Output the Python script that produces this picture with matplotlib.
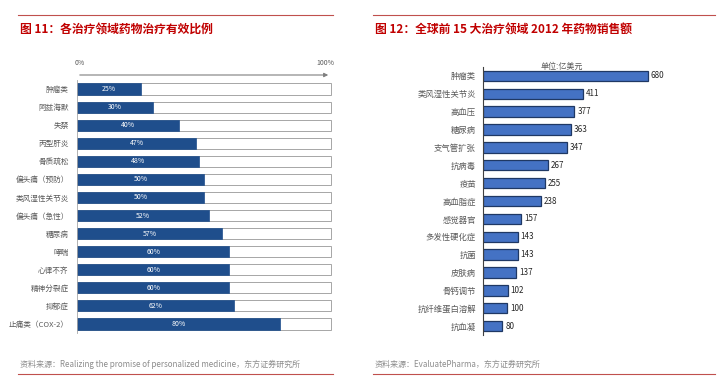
import numpy as np
import matplotlib
matplotlib.use('Agg')
import matplotlib.pyplot as plt
from matplotlib.lines import Line2D

plt.rcParams['font.family'] = ['Noto Sans CJK SC', 'DejaVu Sans']

# ----------------------------- DATOS -------------------------------

areas_izq = ['肿瘤类', '阿兹海默', '失禁', '丙型肝炎', '骨质疏松', '偏头痛（预防）',
             '类风湿性关节炎', '偏头痛（急性）', '糖尿病', '哮喘', '心律不齐',
             '精神分裂症', '抑郁症', '止痛类（COX-2）']
eficacia = [25, 30, 40, 47, 48, 50, 50, 52, 57, 60, 60, 60, 62, 80]

areas_der = ['肿瘤类', '类风湿性关节炎', '高血压', '糖尿病', '支气管扩张', '抗病毒',
             '疫苗', '高血脂症', '感觉器官', '多发性硬化症', '抗菌', '皮肤病',
             '骨钙调节', '抗纤维蛋白溶解', '抗血凝']
ventas = [680, 411, 377, 363, 347, 267, 255, 238, 157, 143, 143, 137, 102, 100, 80]

W, H = 718, 390
rojo = '#C00000'
gris = '#595959'

fig = plt.figure(figsize=(W / 100, H / 100), dpi=100)

def px(x, y):
    return x / W, 1 - y / H

def linea(x0, x1, y, color='#C0504D', lw=0.8):
    a, b = px(x0, y)
    c, _ = px(x1, y)
    fig.add_artist(Line2D([a, c], [b, b], transform=fig.transFigure, color=color, lw=lw))

# --------------------------- IZQUIERDA -----------------------------

linea(18, 333, 15)
linea(18, 333, 374)
fig.text(*px(20, 29), '图 11：各治疗领域药物治疗有效比例', color=rojo, fontsize=8.5,
         fontweight='bold', va='center', ha='left')
fig.text(*px(20, 364), '资料来源：Realizing the promise of personalized medicine，东方证券研究所',
         color='#8c8c8c', fontsize=5.8, va='center', ha='left')

ax1 = fig.add_axes([77 / W, 1 - 333 / H, 254 / W, 253 / H])
y1 = np.arange(len(areas_izq))
fondo = ax1.barh(y1, [100] * len(y1), height=0.62, color='white', edgecolor='#a6a6a6', lw=0.7)
for p in fondo:
    p.set_clip_on(False)
ax1.barh(y1, eficacia, height=0.62, color='#1F4E8C', edgecolor='#1F4E8C', lw=0.5)
for yi, v in zip(y1, eficacia):
    ax1.text(v / 2, yi, f'{v}%', color='white', fontsize=5, ha='center', va='center')
ax1.set_xlim(0, 100)
ax1.set_ylim(len(y1) - 0.5, -0.5)
ax1.set_yticks(y1)
ax1.set_yticklabels(areas_izq, fontsize=5.5, color=gris)
ax1.tick_params(axis='y', length=0, pad=6)
ax1.set_xticks([])
for s in ['top', 'right', 'bottom']:
    ax1.spines[s].set_visible(False)
ax1.spines['left'].set_color('#a6a6a6')
ax1.spines['left'].set_linewidth(0.6)
ax1.annotate('', xy=(331 / W, 1 - 75 / H), xytext=(77 / W, 1 - 75 / H),
             xycoords='figure fraction',
             arrowprops=dict(arrowstyle='-|>', color='#7f7f7f', lw=0.8, mutation_scale=6))
fig.text(*px(80, 63), '0%', fontsize=5, color=gris, ha='center', va='center')
fig.text(*px(325, 63), '100%', fontsize=5, color=gris, ha='center', va='center')

# ---------------------------- DERECHA ------------------------------

linea(373, 715, 15)
linea(373, 715, 374)
fig.text(*px(375, 29), '图 12：全球前 15 大治疗领域 2012 年药物销售额', color=rojo, fontsize=8.5,
         fontweight='bold', va='center', ha='left')
fig.text(*px(375, 364), '资料来源：EvaluatePharma，东方证券研究所',
         color='#8c8c8c', fontsize=5.8, va='center', ha='left')
fig.text(*px(562, 66), '单位:亿美元', fontsize=5.8, color=gris, ha='center', va='center')

ax2 = fig.add_axes([483 / W, 1 - 335 / H, 218 / W, 268 / H])
y2 = np.arange(len(areas_der))
ax2.barh(y2, ventas, height=0.58, color='#4472C4', edgecolor='#1F3864', lw=0.9)
for yi, v in zip(y2, ventas):
    ax2.text(v + 12, yi, str(v), color='#262626', fontsize=5.8, ha='left', va='center')
ax2.set_xlim(0, 900)
ax2.set_ylim(len(y2) - 0.5, -0.5)
ax2.set_yticks(y2)
ax2.set_yticklabels(areas_der, fontsize=6, color=gris)
ax2.tick_params(axis='y', length=0, pad=5)
ax2.set_xticks([])
for s in ['top', 'right', 'bottom']:
    ax2.spines[s].set_visible(False)
ax2.spines['left'].set_color('#404040')
ax2.spines['left'].set_linewidth(0.8)

fig.savefig('out.png', dpi=100)
